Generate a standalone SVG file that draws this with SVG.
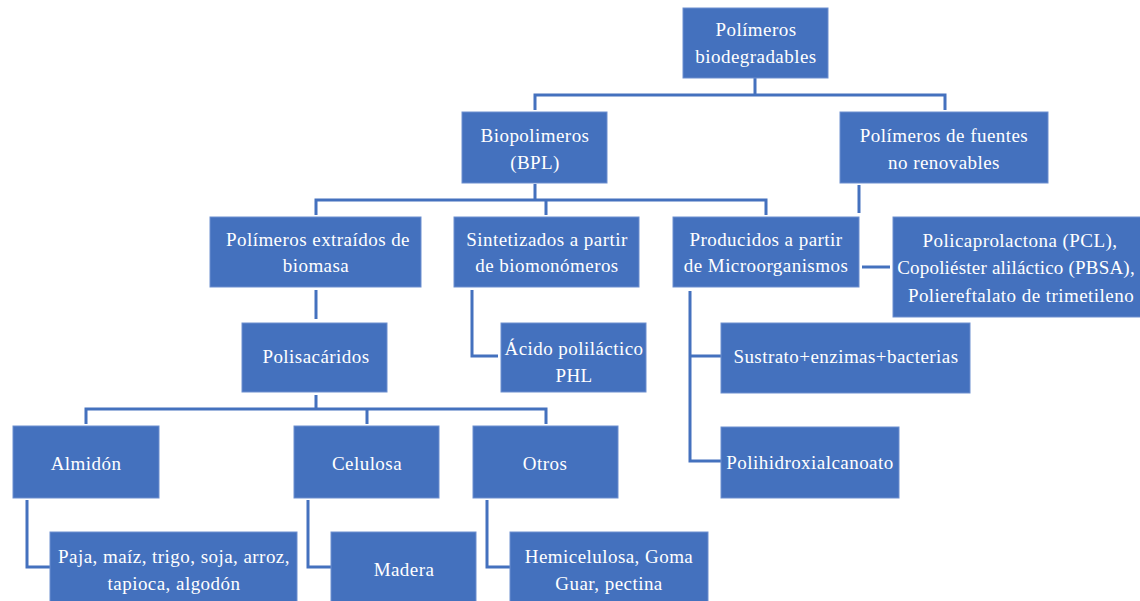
<svg xmlns="http://www.w3.org/2000/svg" width="1140" height="601" viewBox="0 0 1140 601">
<style>
.box{fill:#4471BE;stroke:#6C8FCF;stroke-width:1}
.t{fill:#ffffff;font-family:"Liberation Serif","DejaVu Serif",serif;font-size:19px;letter-spacing:0.45px;text-anchor:middle;dominant-baseline:central}
.c{fill:none;stroke:#4471BE;stroke-width:3}
</style>
<rect width="1140" height="601" fill="#ffffff"/>
<g id="connectors">
<path class="c" d="M755 78V95M535 110V95H945V110"/>
<path class="c" d="M535 184V200M316 215V200H766V215M546 200V215"/>
<path class="c" d="M859 185V213"/>
<path class="c" d="M862 267H890"/>
<path class="c" d="M316 290V319"/>
<path class="c" d="M472 290V356H498"/>
<path class="c" d="M690 291V461H721M690 356H721"/>
<path class="c" d="M316 395V409M86 424V409H546V424M367 409V424"/>
<path class="c" d="M27 500V567H50"/>
<path class="c" d="M308 500V567H331"/>
<path class="c" d="M487 500V567H510"/>
</g>
<g id="n-root"><rect class="box" x="683" y="8" width="145" height="70"/><text class="t" x="756" y="29">Polímeros</text><text class="t" x="756" y="56">biodegradables</text></g>
<g id="n-bpl"><rect class="box" x="462" y="112" width="145" height="71"/><text class="t" x="535" y="135">Biopolimeros</text><text class="t" x="535" y="162">(BPL)</text></g>
<g id="n-fuentes"><rect class="box" x="840" y="112" width="208" height="71"/><text class="t" x="944" y="135">Polímeros de fuentes</text><text class="t" x="944" y="162">no renovables</text></g>
<g id="n-extraidos"><rect class="box" x="210" y="217" width="211" height="70"/><text class="t" x="318" y="239">Polímeros extraídos de</text><text class="t" x="316" y="265">biomasa</text></g>
<g id="n-sintetizados"><rect class="box" x="454" y="217" width="185" height="70"/><text class="t" x="547" y="239">Sintetizados a partir</text><text class="t" x="547" y="265">de biomonómeros</text></g>
<g id="n-producidos"><rect class="box" x="673" y="217" width="186" height="70"/><text class="t" x="766" y="239">Producidos a partir</text><text class="t" x="766" y="265">de Microorganismos</text></g>
<g id="n-pcl"><rect class="box" x="893" y="217" width="255" height="100"/><text class="t" x="1020" y="240">Policaprolactona (PCL),</text><text class="t" x="1016" y="267" style="letter-spacing:0.2px">Copoliéster aliláctico (PBSA),</text><text class="t" x="1021" y="295">Poliereftalato de trimetileno</text></g>
<g id="n-polisacaridos"><rect class="box" x="242" y="323" width="145" height="69"/><text class="t" x="316" y="356">Polisacáridos</text></g>
<g id="n-acido"><rect class="box" x="501" y="323" width="145" height="69"/><text class="t" x="574" y="348">Ácido poliláctico</text><text class="t" x="574" y="375">PHL</text></g>
<g id="n-sustrato"><rect class="box" x="721" y="323" width="249" height="70"/><text class="t" x="846" y="356">Sustrato+enzimas+bacterias</text></g>
<g id="n-pha"><rect class="box" x="721" y="427" width="178" height="71"/><text class="t" x="810" y="462">Polihidroxialcanoato</text></g>
<g id="n-almidon"><rect class="box" x="13" y="426" width="146" height="72"/><text class="t" x="86" y="463">Almidón</text></g>
<g id="n-celulosa"><rect class="box" x="294" y="426" width="145" height="72"/><text class="t" x="367" y="463">Celulosa</text></g>
<g id="n-otros"><rect class="box" x="473" y="426" width="145" height="72"/><text class="t" x="545" y="463">Otros</text></g>
<g id="n-paja"><rect class="box" x="50" y="532" width="247" height="72"/><text class="t" x="174" y="556">Paja, maíz, trigo, soja, arroz,</text><text class="t" x="174" y="583">tapioca, algodón</text></g>
<g id="n-madera"><rect class="box" x="331" y="532" width="145" height="72"/><text class="t" x="404" y="569">Madera</text></g>
<g id="n-hemi"><rect class="box" x="510" y="532" width="198" height="72"/><text class="t" x="609" y="556">Hemicelulosa, Goma</text><text class="t" x="609" y="583">Guar, pectina</text></g>
</svg>
